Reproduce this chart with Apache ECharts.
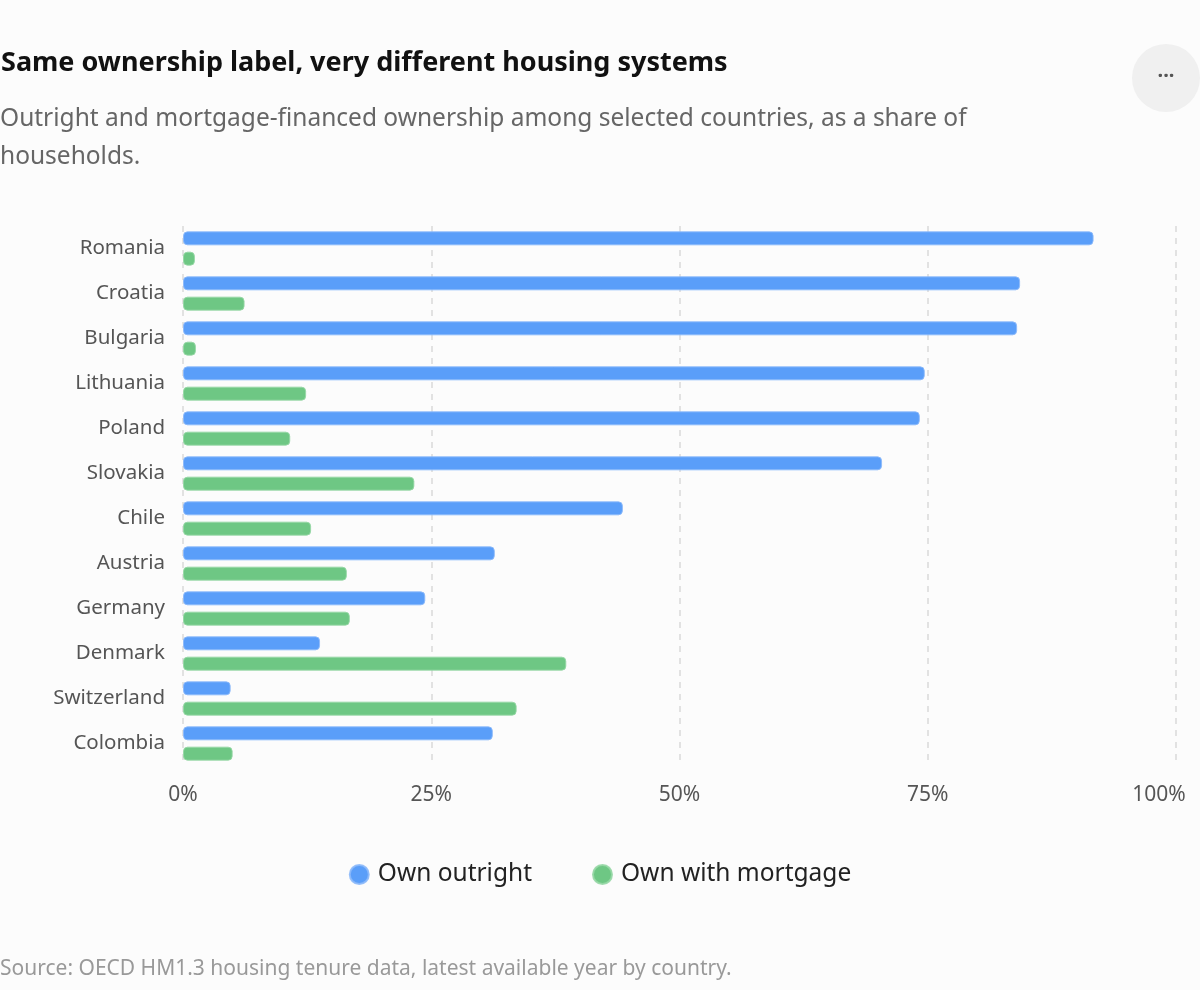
<!DOCTYPE html>
<html><head><meta charset="utf-8">
<script src="https://cdn.jsdelivr.net/npm/echarts@6/dist/echarts.min.js"></script>
<style>html,body{margin:0;padding:0;background:#fcfcfc;}#c{width:1200px;height:990px;}</style>
</head><body><div id="c"></div>
<script>
const countries = ["Romania","Croatia","Bulgaria","Lithuania","Poland","Slovakia","Chile","Austria","Germany","Denmark","Switzerland","Colombia"];
const ownOutright = [91.7,84.3,84.0,74.7,74.2,70.4,44.3,31.4,24.4,13.8,4.8,31.2];
const ownMortgage = [1.2,6.2,1.3,12.4,10.8,23.3,12.9,16.5,16.8,38.6,33.6,5.0];
const xTicks = [0,25,50,75,100];
const FONT = '"Noto Sans", "Open Sans", sans-serif';

const chart = echarts.init(document.getElementById('c'), null, {renderer:'canvas'});
chart.setOption({
  backgroundColor:'#fcfcfc',
  textStyle:{fontFamily:FONT},
  title:[
    {text:'Same ownership label, very different housing systems', left:1, top:50, padding:0,
     textStyle:{fontSize:27, fontWeight:'bold', color:'#111', fontFamily:FONT}},
    {text:'Outright and mortgage-financed ownership among selected countries, as a share of households.', left:0, top:100, padding:0,
     textStyle:{fontSize:24.5, fontWeight:'normal', color:'#666', fontFamily:FONT, width:990, overflow:'break', lineHeight:38}},
    {text:'Source: OECD HM1.3 housing tenure data, latest available year by country.', left:0, top:959, padding:0,
     textStyle:{fontSize:21, fontWeight:'normal', color:'#999', fontFamily:FONT}}
  ],
  graphic:[
    {type:'circle', shape:{cx:1166, cy:78, r:34}, style:{fill:'#f0f0f0'}},
    {type:'text', x:1166, y:76, style:{text:'···', fill:'#555', font:'bold 20px '+FONT, align:'center', verticalAlign:'middle'}}
  ],
  legend:{
    top:857, left:'center', itemGap:60, icon:'circle', itemWidth:19, itemHeight:19,
    textStyle:{fontSize:24.5, color:'#222', fontFamily:FONT, padding:[0,0,0,4]},
    data:['Own outright','Own with mortgage']
  },
  grid:{left:183, right:24, top:226, bottom:224, containLabel:false},
  xAxis:{
    type:'value', min:0, max:100, interval:25,
    axisLabel:{
      formatter:v=> v===100 ? '{last|'+v+'%}' : v+'%',
      rich:{last:{fontSize:21, color:'#555', fontFamily:FONT, padding:[0,34,0,0]}},
      fontSize:21, color:'#555', margin:19, fontFamily:FONT},
    axisLine:{show:false}, axisTick:{show:false},
    splitLine:{show:true, lineStyle:{type:[6,6], color:'#e2e2e2', width:2}}
  },
  yAxis:{
    type:'category', data:countries, inverse:true,
    axisLabel:{fontSize:20.5, color:'#555', margin:18, fontFamily:FONT},
    axisLine:{show:false}, axisTick:{show:false}
  },
  series:[
    {name:'Own outright', type:'bar', data:ownOutright, barWidth:14, barGap:'45%',
     itemStyle:{color:'#5a9ef9', borderRadius:4, borderColor:'rgba(140,185,250,0.9)', borderWidth:1}},
    {name:'Own with mortgage', type:'bar', data:ownMortgage, barWidth:14,
     itemStyle:{color:'#6ec784', borderRadius:4, borderColor:'rgba(150,215,165,0.9)', borderWidth:1}}
  ]
});
</script></body></html>
